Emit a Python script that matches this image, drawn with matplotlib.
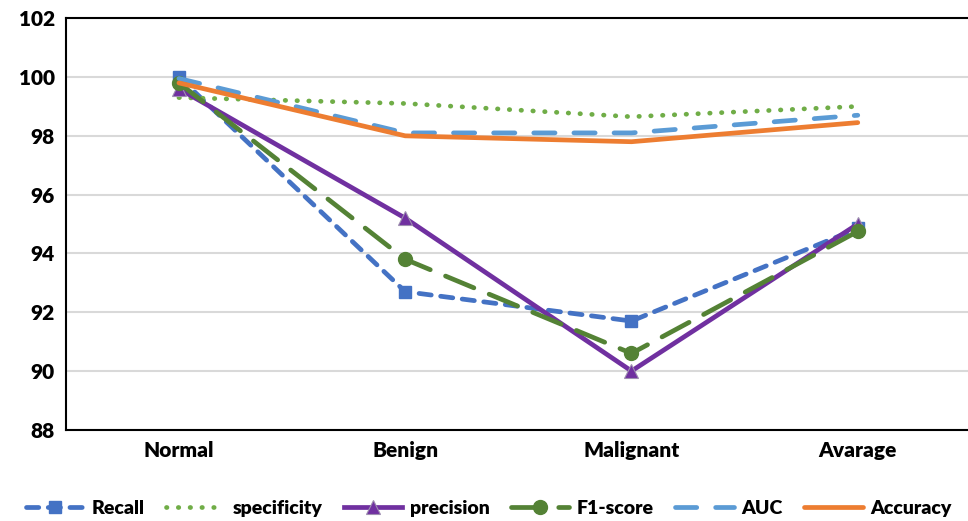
import matplotlib
matplotlib.use("Agg")
import matplotlib.pyplot as plt

plt.rcParams['font.family'] = ['Lato', 'DejaVu Sans']

categories = ["Normal", "Benign", "Malignant", "Avarage"]
recall = [100.0, 92.7, 91.7, 94.85]
specificity = [99.3, 99.1, 98.65, 99.0]
precision = [99.6, 95.2, 90.0, 95.0]
f1_score = [99.8, 93.8, 90.6, 94.75]
auc = [99.95, 98.1, 98.1, 98.7]
accuracy = [99.8, 98.0, 97.8, 98.45]
y_ticks = [88, 90, 92, 94, 96, 98, 100, 102]

x = list(range(len(categories)))

fig = plt.figure(figsize=(9.68, 5.21), dpi=100)
ax = fig.add_axes([0.068, 0.175, 0.935, 0.79])

lw = 3.4
ax.plot(x, recall, color='#4472C4', lw=lw, linestyle=(0, (2.6, 2)),
        marker='s', ms=9, label='Recall', dash_capstyle='round')
ax.plot(x, specificity, color='#70AD47', lw=lw, linestyle=(0, (0.1, 2.4)),
        dash_capstyle='round', label='specificity')
ax.plot(x, precision, color='#7030A0', lw=lw, marker='^', ms=10,
        markeredgecolor='#9E8FB0', markeredgewidth=0.8, label='precision')
ax.plot(x, f1_score, color='#548235', lw=lw, linestyle=(0, (6.5, 3.5)),
        marker='o', ms=10, dash_capstyle='round', label='F1-score')
ax.plot(x, auc, color='#5B9BD5', lw=lw, linestyle=(0, (4.5, 4)),
        dash_capstyle='round', label='AUC')
ax.plot(x, accuracy, color='#ED7D31', lw=lw, solid_capstyle='round',
        label='Accuracy')

ax.set_xlim(-0.5, 3.5)
ax.set_ylim(88, 102)
ax.set_yticks(y_ticks)
ax.set_xticks(x)
ax.set_xticklabels(categories)
ax.tick_params(length=0, labelsize=15, pad=8)
for lbl in ax.get_xticklabels() + ax.get_yticklabels():
    lbl.set_fontweight('heavy')
ax.yaxis.grid(True, color='#D9D9D9', lw=1.5)
ax.set_axisbelow(True)
ax.spines['right'].set_visible(False)
for side in ['left', 'top', 'bottom']:
    ax.spines[side].set_color('black')
    ax.spines[side].set_linewidth(1.5)

fig.legend(loc='lower center', bbox_to_anchor=(0.505, -0.025), ncol=6,
           frameon=False, prop={'weight': 'heavy', 'size': 14},
           handlelength=3.0, handletextpad=0.4, columnspacing=1.1)

fig.savefig('out.png', dpi=100)
